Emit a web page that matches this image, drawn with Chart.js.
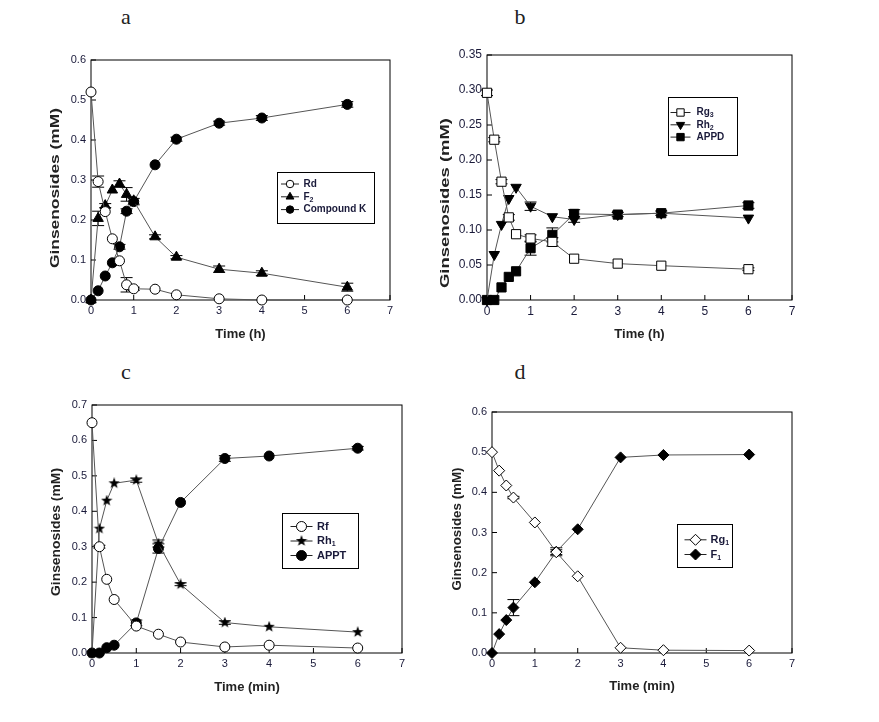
<!DOCTYPE html>
<html>
<head>
<meta charset="utf-8">
<script src="https://cdn.jsdelivr.net/npm/chart.js@4.4.1/dist/chart.umd.min.js"></script>
<style>
  body { margin: 0; background: #fff; }
  #page { position: relative; width: 879px; height: 722px; overflow: hidden; }
  canvas { position: absolute; }
  .tag { position: absolute; font-family: "Liberation Serif", "Times New Roman", serif; font-size: 22px; line-height: 1; color: #222; transform: translateX(-50%); }
</style>
</head>
<body>
<div id="page">
  <div class="tag" style="left:126px; top:6px">a</div>
  <div class="tag" style="left:520px; top:6px">b</div>
  <div class="tag" style="left:126px; top:361px">c</div>
  <div class="tag" style="left:520px; top:361px">d</div>
  <canvas id="chartA" width="440" height="320" style="left:0; top:40px"></canvas>
  <canvas id="chartB" width="459" height="320" style="left:420px; top:40px"></canvas>
  <canvas id="chartC" width="440" height="342" style="left:0; top:380px"></canvas>
  <canvas id="chartD" width="459" height="342" style="left:420px; top:380px"></canvas>
</div>
<script>
// ---- data ----
const xTicks = [0, 1, 2, 3, 4, 5, 6, 7];

// a: Rd -> F2 -> Compound K (h)
const timeA = [0, 0.167, 0.333, 0.5, 0.667, 0.833, 1, 1.5, 2, 3, 4, 6];
const rdA = [0.52, 0.296, 0.221, 0.153, 0.098, 0.038, 0.028, 0.027, 0.013, 0.003, 0, 0];
const rdErrA = [0, 0.014, 0, 0, 0, 0.018, 0.004, 0, 0, 0, 0, 0];
const f2A = [0, 0.204, 0.236, 0.275, 0.29, 0.264, 0.248, 0.158, 0.107, 0.077, 0.067, 0.032];
const f2ErrA = [0, 0.018, 0.005, 0, 0.008, 0.017, 0, 0.005, 0.004, 0.008, 0.006, 0.01];
const ckA = [0, 0.023, 0.06, 0.093, 0.133, 0.222, 0.246, 0.338, 0.402, 0.442, 0.455, 0.489];
const ckErrA = [0, 0, 0, 0, 0.006, 0.006, 0.008, 0, 0.005, 0.005, 0.006, 0.007];
const yTicksA = [0, 0.1, 0.2, 0.3, 0.4, 0.5, 0.6];

// b: Rg3 -> Rh2 -> APPD (h)
const timeB = [0, 0.167, 0.333, 0.5, 0.667, 1, 1.5, 2, 3, 4, 6];
const rg3B = [0.296, 0.229, 0.169, 0.118, 0.094, 0.088, 0.083, 0.059, 0.052, 0.049, 0.044];
const rg3ErrB = [0.004, 0.003, 0.003, 0.004, 0, 0.005, 0.006, 0, 0, 0, 0.002];
const rh2B = [0, 0.065, 0.108, 0.145, 0.161, 0.134, 0.119, 0.115, 0.122, 0.124, 0.117];
const rh2ErrB = [0, 0, 0, 0, 0, 0.006, 0, 0.004, 0, 0, 0];
const appdB = [0, 0, 0.018, 0.033, 0.041, 0.074, 0.093, 0.123, 0.122, 0.124, 0.135];
const appdErrB = [0, 0, 0, 0, 0, 0.01, 0.01, 0.006, 0.003, 0.003, 0.004];
const yTicksB = [0, 0.05, 0.1, 0.15, 0.2, 0.25, 0.3, 0.35];

// c: Rf -> Rh1 -> APPT (min)
const timeC = [0, 0.167, 0.333, 0.5, 1, 1.5, 2, 3, 4, 6];
const rfC = [0.65, 0.3, 0.208, 0.151, 0.076, 0.053, 0.031, 0.017, 0.022, 0.014];
const rfErrC = [0, 0.004, 0, 0, 0, 0, 0, 0, 0, 0];
const rh1C = [0, 0.351, 0.43, 0.479, 0.488, 0.309, 0.194, 0.086, 0.074, 0.059];
const rh1ErrC = [0, 0, 0, 0, 0.006, 0.01, 0.004, 0.005, 0, 0];
const apptC = [0, 0, 0.015, 0.022, 0.085, 0.295, 0.425, 0.549, 0.556, 0.578];
const apptErrC = [0, 0, 0, 0, 0.008, 0.013, 0, 0.008, 0, 0.005];
const yTicksC = [0, 0.1, 0.2, 0.3, 0.4, 0.5, 0.6, 0.7];

// d: Rg1 -> F1 (min)
const timeD = [0, 0.167, 0.333, 0.5, 1, 1.5, 2, 3, 4, 6];
const rg1D = [0.5, 0.454, 0.417, 0.387, 0.325, 0.251, 0.191, 0.013, 0.007, 0.006];
const rg1ErrD = [0, 0, 0, 0.003, 0, 0.006, 0, 0, 0, 0];
const f1D = [0, 0.047, 0.082, 0.113, 0.176, 0.252, 0.308, 0.487, 0.493, 0.494];
const f1ErrD = [0, 0, 0, 0.02, 0, 0.01, 0, 0, 0, 0];
const yTicksD = [0, 0.1, 0.2, 0.3, 0.4, 0.5, 0.6];

Chart.defaults.font.family = '"Liberation Sans", Arial, sans-serif';
Chart.defaults.color = '#1a1a3a';

// filled star used for Rh1
function starImage(size) {
    const c = document.createElement("canvas");
    c.width = c.height = size;
    const g = c.getContext("2d");
    g.beginPath();
    for (let i = 0; i < 10; i++) {
        const r = i % 2 ? size * 0.2 : size * 0.5;
        const a = -Math.PI / 2 + (i * Math.PI) / 5;
        g.lineTo(size / 2 + r * Math.cos(a), size / 2 + r * Math.sin(a));
    }
    g.closePath();
    g.fillStyle = "#000";
    g.fill();
    return c;
}
const star = starImage(12);

function series(label, times, values, errors, style) {
    return {
        label,
        data: times.map((t, i) => ({ x: t, y: values[i] })),
        errors,
        borderColor: "#555",
        borderWidth: 1,
        tension: 0,
        clip: false,
        pointBorderColor: "#000",
        pointBorderWidth: 1,
        ...style,
    };
}
const openCircle = { pointStyle: "circle", pointRadius: 5, pointBackgroundColor: "#fff" };
const fullCircle = { pointStyle: "circle", pointRadius: 5, pointBackgroundColor: "#000" };
const upTriangle = { pointStyle: "triangle", pointRadius: 6, pointBackgroundColor: "#000" };
const downTriangle = { pointStyle: "triangle", pointRadius: 6, pointRotation: 180, pointBackgroundColor: "#000" };
const openSquare = { pointStyle: "rect", pointRadius: 6.5, pointBackgroundColor: "#fff" };
const fullSquare = { pointStyle: "rect", pointRadius: 6.5, pointBackgroundColor: "#000" };
const starStyle = { pointStyle: star, pointRadius: 6, pointBackgroundColor: "#000" };
const openDiamond = { pointStyle: "rectRot", pointRadius: 5.5, pointBackgroundColor: "#fff" };
const fullDiamond = { pointStyle: "rectRot", pointRadius: 5.5, pointBackgroundColor: "#000" };

// frame round the plot, with ticks pointing inwards
const frameTicks = {
    id: "frameTicks",
    beforeDatasetsDraw(chart) {
        const { ctx, chartArea: a, scales: { x, y } } = chart;
        ctx.save();
        ctx.strokeStyle = "#000";
        ctx.lineWidth = 1;
        ctx.strokeRect(a.left, a.top, a.right - a.left, a.bottom - a.top);
        ctx.beginPath();
        x.ticks.forEach((t) => {
            const px = x.getPixelForValue(t.value);
            ctx.moveTo(px, a.bottom);
            ctx.lineTo(px, a.bottom - 5);
        });
        y.ticks.forEach((t) => {
            const py = y.getPixelForValue(t.value);
            ctx.moveTo(a.left, py);
            ctx.lineTo(a.left + 5, py);
        });
        ctx.stroke();
        ctx.restore();
    },
};

// vertical error bars with caps
const errorBars = {
    id: "errorBars",
    beforeDatasetsDraw(chart) {
        const { ctx, scales: { x, y } } = chart;
        ctx.save();
        ctx.strokeStyle = "#000";
        ctx.lineWidth = 1;
        chart.data.datasets.forEach((ds) => {
            if (!ds.errors) return;
            ds.data.forEach((p, i) => {
                const e = ds.errors[i];
                if (!e) return;
                const px = x.getPixelForValue(p.x);
                const top = y.getPixelForValue(p.y + e);
                const bot = y.getPixelForValue(p.y - e);
                ctx.beginPath();
                ctx.moveTo(px, top);
                ctx.lineTo(px, bot);
                ctx.moveTo(px - 6, top);
                ctx.lineTo(px + 6, top);
                ctx.moveTo(px - 6, bot);
                ctx.lineTo(px + 6, bot);
                ctx.stroke();
            });
        });
        ctx.restore();
    },
};

const SUBS = "₀₁₂₃₄₅₆₇₈₉";
function drawLabel(ctx, text, x, y, size) {
    let cx = x;
    for (const ch of text) {
        const sub = SUBS.indexOf(ch);
        if (sub >= 0) {
            ctx.font = `bold ${Math.round(size * 0.65)}px "Liberation Sans", Arial`;
            ctx.fillText(String(sub), cx, y + size * 0.3);
            cx += ctx.measureText(String(sub)).width;
        } else {
            ctx.font = `bold ${size}px "Liberation Sans", Arial`;
            ctx.fillText(ch, cx, y);
            cx += ctx.measureText(ch).width;
        }
    }
}

// boxed legend inside the plot
const boxLegend = {
    id: "boxLegend",
    afterDraw(chart, args, opts) {
        const { ctx, chartArea: a } = chart;
        const bx = Math.round(a.left + opts.left) + 0.5;
        const by = Math.round(a.top + opts.top) + 0.5;
        ctx.save();
        ctx.fillStyle = "#fff";
        ctx.fillRect(bx, by, opts.width, opts.height);
        ctx.strokeStyle = "#000";
        ctx.lineWidth = 1;
        ctx.strokeRect(bx, by, opts.width, opts.height);
        chart.data.datasets.forEach((ds, i) => {
            const cy = by + opts.rowTop + i * opts.rowGap;
            const mx = bx + opts.markerX;
            ctx.strokeStyle = "#222";
            ctx.beginPath();
            ctx.moveTo(mx - opts.lineHalf, cy);
            ctx.lineTo(mx + opts.lineHalf, cy);
            ctx.stroke();
            ctx.fillStyle = ds.pointBackgroundColor;
            ctx.strokeStyle = "#000";
            Chart.helpers.drawPoint(ctx, {
                pointStyle: ds.pointStyle,
                radius: ds.pointRadius * opts.markerScale,
                rotation: ds.pointRotation || 0,
                borderWidth: 1,
            }, mx, cy);
            ctx.fillStyle = "#1a1a3a";
            ctx.textAlign = "left";
            ctx.textBaseline = "middle";
            drawLabel(ctx, ds.label, bx + opts.labelX, cy, opts.fontSize);
        });
        ctx.restore();
    },
};

// rotated y title, stretched along its length like the scan
const yTitle = {
    id: "yTitle",
    afterDraw(chart, args, opts) {
        const { ctx } = chart;
        ctx.save();
        ctx.font = 'bold 13px "Liberation Sans", Arial';
        const w = ctx.measureText(opts.text).width;
        ctx.translate(opts.x, opts.y);
        ctx.rotate(-Math.PI / 2);
        ctx.scale(opts.length / w, 1);
        ctx.fillStyle = "#222";
        ctx.textAlign = "center";
        ctx.textBaseline = "middle";
        ctx.fillText(opts.text, 0, 0);
        ctx.restore();
    },
};

function makeChart(id, p) {
    const canvas = document.getElementById(id);
    const W = canvas.width, H = canvas.height;
    return new Chart(canvas, {
        type: "line",
        data: { datasets: p.datasets },
        options: {
            responsive: false,
            animation: false,
            devicePixelRatio: 1,
            layout: { padding: { left: 0, top: p.plot.top, right: W - p.plot.right, bottom: 0 } },
            scales: {
                x: {
                    type: "linear",
                    min: 0,
                    max: 7,
                    afterBuildTicks: (s) => { s.ticks = xTicks.map((v) => ({ value: v })); },
                    afterFit: (s) => { s.height = H - p.plot.bottom; },
                    grid: { display: false, drawTicks: false },
                    border: { display: false },
                    ticks: { padding: 4, font: { size: p.tickSize }, callback: (v) => String(v) },
                    title: {
                        display: true,
                        text: p.xTitle,
                        color: "#222",
                        font: { size: 13, weight: "bold" },
                        padding: { top: 0, bottom: H - p.xTitleY - 7.8 },
                    },
                },
                y: {
                    type: "linear",
                    min: 0,
                    max: p.yTicks[p.yTicks.length - 1],
                    afterBuildTicks: (s) => { s.ticks = p.yTicks.map((v) => ({ value: v })); },
                    afterFit: (s) => { s.width = p.plot.left; },
                    grid: { display: false, drawTicks: false },
                    border: { display: false },
                    ticks: { padding: 5, font: { size: p.tickSize }, callback: (v) => Number(v).toFixed(p.yDec) },
                },
            },
            plugins: {
                legend: { display: false },
                tooltip: { enabled: false },
                boxLegend: p.legend,
                yTitle: { text: "Ginsenosides (mM)", ...p.yTitle },
            },
        },
        plugins: [frameTicks, errorBars, boxLegend, yTitle],
    });
}

makeChart("chartA", {
    plot: { left: 91, top: 20, right: 390, bottom: 260 },
    yTicks: yTicksA, yDec: 1, tickSize: 11,
    xTitle: "Time (h)", xTitleY: 294,
    yTitle: { x: 55, y: 148, length: 160 },
    legend: { left: 186, top: 112, width: 97, height: 51, markerX: 12.5, lineHalf: 9, labelX: 26, rowTop: 11.5, rowGap: 12.8, markerScale: 0.75, fontSize: 10 },
    datasets: [
        series("Rd", timeA, rdA, rdErrA, openCircle),
        series("F₂", timeA, f2A, f2ErrA, upTriangle),
        series("Compound K", timeA, ckA, ckErrA, fullCircle),
    ],
});

makeChart("chartB", {
    plot: { left: 67, top: 15, right: 372, bottom: 260 },
    yTicks: yTicksB, yDec: 2, tickSize: 12,
    xTitle: "Time (h)", xTitleY: 294,
    yTitle: { x: 25, y: 163, length: 170 },
    legend: { left: 181, top: 42, width: 69, height: 58, markerX: 12, lineHalf: 10, labelX: 28, rowTop: 15, rowGap: 12.3, markerScale: 0.8, fontSize: 10 },
    datasets: [
        series("Rg₃", timeB, rg3B, rg3ErrB, openSquare),
        series("Rh₂", timeB, rh2B, rh2ErrB, downTriangle),
        series("APPD", timeB, appdB, appdErrB, fullSquare),
    ],
});

makeChart("chartC", {
    plot: { left: 92, top: 25, right: 402, bottom: 273 },
    yTicks: yTicksC, yDec: 1, tickSize: 11,
    xTitle: "Time (min)", xTitleY: 307,
    yTitle: { x: 56, y: 152, length: 128 },
    legend: { left: 190, top: 108, width: 76, height: 55, markerX: 19, lineHalf: 11, labelX: 34.5, rowTop: 13, rowGap: 14.5, markerScale: 1, fontSize: 11 },
    datasets: [
        series("Rf", timeC, rfC, rfErrC, openCircle),
        series("Rh₁", timeC, rh1C, rh1ErrC, starStyle),
        series("APPT", timeC, apptC, apptErrC, fullCircle),
    ],
});

makeChart("chartD", {
    plot: { left: 72, top: 32, right: 372, bottom: 273 },
    yTicks: yTicksD, yDec: 1, tickSize: 11,
    xTitle: "Time (min)", xTitleY: 306,
    yTitle: { x: 37, y: 149, length: 123 },
    legend: { left: 185, top: 112, width: 55, height: 43, markerX: 18, lineHalf: 11, labelX: 33, rowTop: 15.3, rowGap: 14.7, markerScale: 1, fontSize: 11 },
    datasets: [
        series("Rg₁", timeD, rg1D, rg1ErrD, openDiamond),
        series("F₁", timeD, f1D, f1ErrD, fullDiamond),
    ],
});
</script>
</body>
</html>
